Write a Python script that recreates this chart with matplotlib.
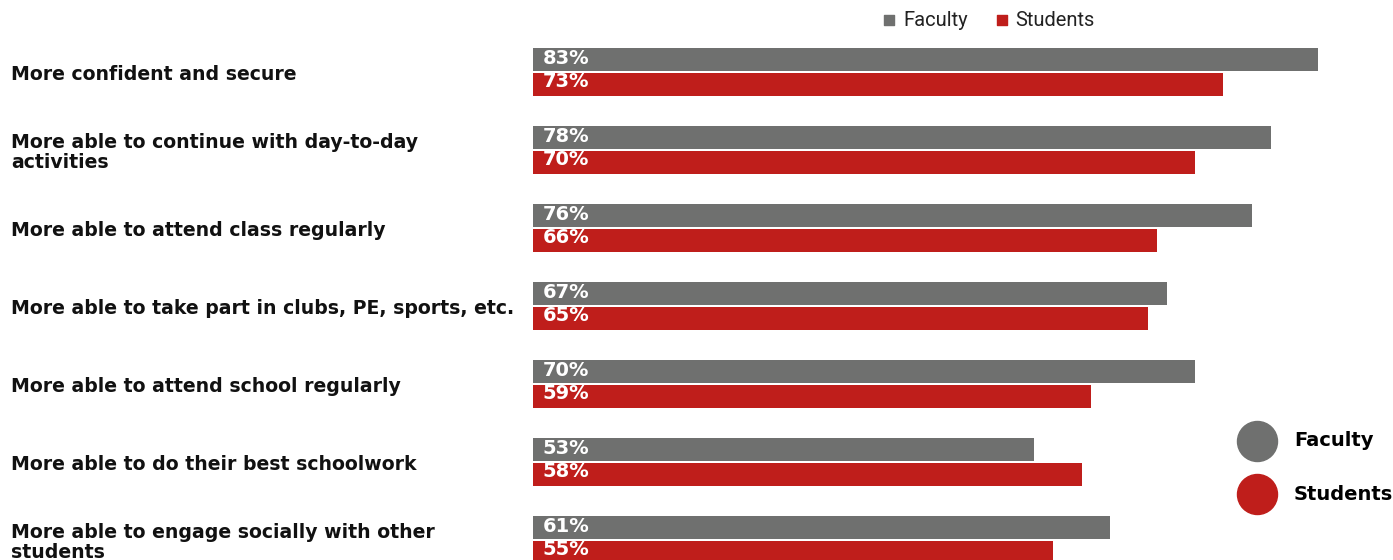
import matplotlib.pyplot as plt
import numpy as np
from matplotlib.transforms import blended_transform_factory

categories = [
    'More confident and secure',
    'More able to continue with day-to-day\nactivities',
    'More able to attend class regularly',
    'More able to take part in clubs, PE, sports, etc.',
    'More able to attend school regularly',
    'More able to do their best schoolwork',
    'More able to engage socially with other\nstudents',
]
faculty = [83, 78, 76, 67, 70, 53, 61]
students = [73, 70, 66, 65, 59, 58, 55]

gray = '#6f706f'
red = '#bf1e1b'

W, H = 1393, 560
fig = plt.figure(figsize=(W / 100, H / 100), dpi=100)

# bar area starts at the left edge of the bars and runs to the figure edge
ax = fig.add_axes([533 / W, 0, 1 - 533 / W, 1])
ax.set_xlim(0, (W - 533) / 9.458)
ax.set_ylim((H - 72) / 78, -72 / 78)
ax.axis('off')

y = np.arange(len(categories))
h = 0.295
off = 0.16
ax.barh(y - off, faculty, height=h, color=gray)
ax.barh(y + off, students, height=h, color=red)

for i in range(len(categories)):
    ax.text(1.0, y[i] - off - 0.01, f'{faculty[i]}%', color='white', fontsize=14,
            fontweight='bold', family='DejaVu Sans', va='center', ha='left')
    ax.text(1.0, y[i] + off - 0.04, f'{students[i]}%', color='white', fontsize=14,
            fontweight='bold', family='DejaVu Sans', va='center', ha='left')

# category labels on the left
tr = blended_transform_factory(fig.transFigure, ax.transData)
for i, lab in enumerate(categories):
    ax.text(11 / W, y[i] + 0.03, lab, transform=tr, ha='left', va='center',
            fontsize=13.6, fontweight='bold', family='DejaVu Sans', linespacing=1.05,
            color='#111111')

# overlay in pixel units for the two legends
ov = fig.add_axes([0, 0, 1, 1], facecolor='none')
ov.set_xlim(0, W)
ov.set_ylim(H, 0)
ov.axis('off')

# top legend
ov.scatter([889], [20], marker='s', s=45, color=gray)
ov.text(903, 20, 'Faculty', va='center', ha='left', fontsize=14.5, family='Roboto', color='#222222')
ov.scatter([1002], [20], marker='s', s=45, color=red)
ov.text(1015, 20, 'Students', va='center', ha='left', fontsize=14.5, family='Roboto', color='#222222')

# side legend
ov.scatter([1257], [441], s=830, color=gray)
ov.text(1294, 441, 'Faculty', va='center', ha='left', fontsize=14, fontweight='bold', family='DejaVu Sans')
ov.scatter([1257], [494], s=830, color=red)
ov.text(1294, 494, 'Students', va='center', ha='left', fontsize=14, fontweight='bold', family='DejaVu Sans')

fig.savefig('out.png', dpi=100)
